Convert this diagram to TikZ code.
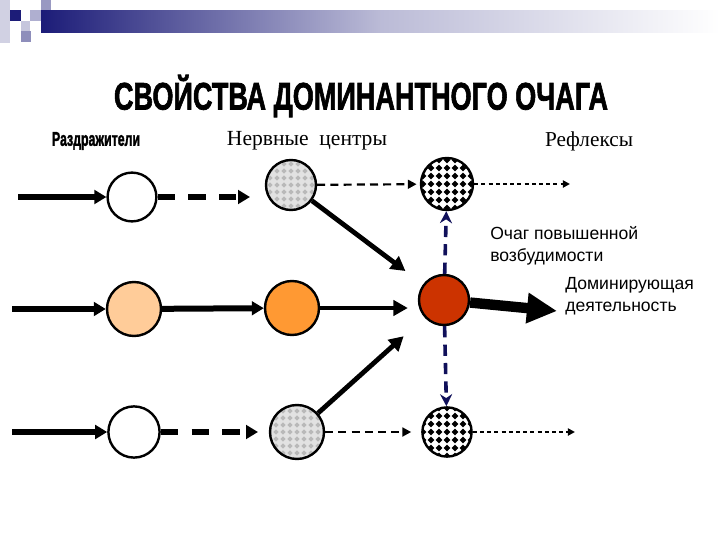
\documentclass[tikz,border=0pt]{standalone}
\usepackage{fontspec}
\setmainfont{Liberation Serif}
\setsansfont{Liberation Sans}
\newfontfamily\heavyfont{Liberation Sans}[BoldFeatures={FakeBold=2}]
\usetikzlibrary{arrows.meta}
\definecolor{navybar}{RGB}{28,28,120}
\definecolor{navyarrow}{RGB}{16,16,90}
\definecolor{peach}{RGB}{255,204,153}
\definecolor{orangec}{RGB}{255,153,51}
\definecolor{redc}{RGB}{204,51,0}
\definecolor{lgray}{RGB}{226,226,226}
\definecolor{mgray}{RGB}{185,185,185}

\begin{document}
\begin{tikzpicture}[x=0.25mm, y=-0.25mm,
    neuron/.style={circle, draw=black, line width=0.6mm, inner sep=0pt, minimum size=12.5mm},
    graydots/.style={fill=lgray, path picture={
        \foreach \i in {-4,...,4} \foreach \j in {-4,...,4}
          \fill[mgray] ([shift={(\i*7,\j*7)}]path picture bounding box.center)
            +(0,-2.6) -- +(2.6,0) -- +(0,2.6) -- +(-2.6,0) -- cycle;}},
    blackdots/.style={fill=white, path picture={
        \foreach \i in {-4,...,4} \foreach \j in {-4,...,4}
          \fill[black] ([shift={(\i*8,\j*8)}]path picture bounding box.center)
            +(0,-3.4) -- +(3.4,0) -- +(0,3.4) -- +(-3.4,0) -- cycle;}},
    thk/.style={line width=1.5mm, -{Triangle[length=3mm,width=3.4mm]}},
    thkdash/.style={thk, dash pattern=on 4.3mm off 3.4mm},
    diag/.style={line width=1.2mm, -{Triangle[length=3.6mm,width=3.8mm]}},
    thin dash/.style={line width=0.55mm, dash pattern=on 2mm off 1.3mm, -{Triangle[length=2.2mm,width=2.2mm]}},
    thin dot/.style={line width=0.5mm, dash pattern=on 1mm off 0.8mm, -{Triangle[length=1.8mm,width=1.8mm]}},
    navydash/.style={navyarrow, line width=0.9mm, dash pattern=on 2.8mm off 1.8mm, -{Stealth[length=3mm,width=3mm]}},
    lbl/.style={font=\sffamily\fontsize{12.5}{15.5}\selectfont, align=left, anchor=north west, inner sep=0pt}]
  \useasboundingbox (0,0) rectangle (720,540);
  \fill[white] (0,0) rectangle (720,540);

  % Шапка слайда
  \shade[left color=navybar, right color=white, middle color=navybar!30!white] (41,10) rectangle (720,32);
  \fill[navybar!40!white, opacity=0.5] (0,0) rectangle (10,43);
  \fill[navybar] (10,10) rectangle (21,21);
  \fill[navybar!45!white] (41,0) rectangle (51,10);
  \fill[navybar!35!white] (30,10) rectangle (41,21);
  \fill[navybar!25!white] (21,21) rectangle (30,31);
  \fill[navybar!50!white] (21,31) rectangle (31,42);

  % Заголовки
  \node (title) at (361,96) {\resizebox{123.5mm}{8.7mm}{\heavyfont\bfseries СВОЙСТВА ДОМИНАНТНОГО ОЧАГА}};
  \node (razdr) at (96,141) {\resizebox{22mm}{!}{\scalebox{0.62}[1]{\heavyfont\bfseries Раздражители}}};
  \node (nerv) at (307,141) {\resizebox{40mm}{!}{\fontsize{17}{20}\selectfont Нервные\ \ центры}};
  \node (refl) at (589,141) {\resizebox{22mm}{!}{\fontsize{17}{20}\selectfont Рефлексы}};

  % Раздражители
  \node[neuron, minimum size=12.2mm] (A1) at (132,197) {};
  \node[neuron, minimum size=13.5mm, fill=peach] (A2) at (134,309) {};
  \node[neuron, minimum size=12.8mm] (A3) at (134,432) {};
  % Нервные центры
  \node[neuron, graydots] (B1) at (291,185) {};
  \node[neuron, minimum size=13.5mm, fill=orangec] (B2) at (292,308) {};
  \node[neuron, minimum size=13.5mm, graydots] (B3) at (297,432) {};
  % Рефлексы
  \node[neuron, minimum size=13mm, blackdots] (C1) at (447,184) {};
  \node[neuron, fill=redc] (C2) at (444,300) {};
  \node[neuron, minimum size=12.3mm, blackdots] (C3) at (447,432) {};

  % Свободные концы стрелок
  \coordinate (inA1) at (18,197);
  \coordinate (inA2) at (12,309);
  \coordinate (inA3) at (12,432);
  \coordinate (outA1) at (250,197);
  \coordinate (outA3) at (258,432);
  \coordinate (outC1) at (570,184);
  \coordinate (outC3) at (575,432);
  \coordinate (dom) at (557,311);

  % Стимулы
  \draw[thk] (inA1) -- (A1);
  \draw[thk] (inA2) -- (A2);
  \draw[thk] (inA3) -- (A3);
  \draw[thkdash] (A1) -- (outA1);
  \draw[thk] (A2) -- (B2);
  \draw[thkdash] (A3) -- (outA3);

  % К доминанте
  \draw[diag, shorten >=5.5mm] (B1) -- (C2);
  \draw[diag, shorten >=2.5mm] (B2) -- (B2 -| C2.west);
  \draw[diag, shorten >=7mm] (B3) -- (C2);
  \draw[thin dash, shorten >=0.8mm] (B1) -- (C1);
  \draw[thin dash, shorten >=2.5mm] (B3) -- (C3);
  \draw[thin dot] (C1) -- (outC1);
  \draw[thin dot] (C3) -- (outC3);
  \draw[navydash] (C2) -- (C1);
  \draw[navydash] (C2) -- (C3);
  \draw[line width=2.6mm, -{Triangle[length=7.5mm,width=7.2mm]}] (C2) -- (dom);

  % Подписи
  \node[lbl] (ochag) at (490,226) {Очаг повышенной\\возбудимости};
  \node[lbl] (dominir) at (565,277) {Доминирующая\\деятельность};
\end{tikzpicture}
\end{document}
